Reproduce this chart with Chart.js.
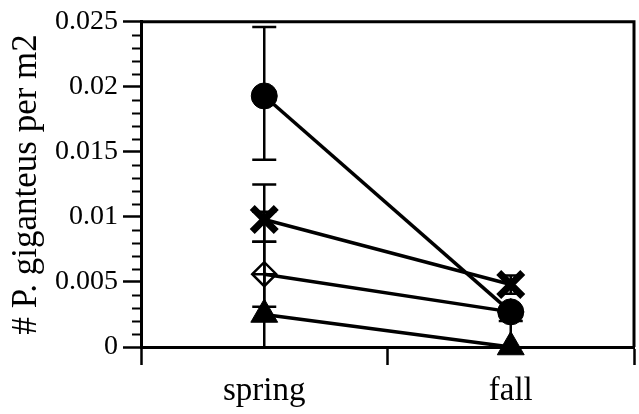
<!DOCTYPE html>
<html>
<head>
  <title>P. giganteus density</title>
  <script src="https://cdn.jsdelivr.net/npm/chart.js"></script>
  <style>
    body { margin: 0; padding: 0; background: #fff; }
    #wrap { width: 639px; height: 414px; }
  </style>
</head>
<body>
  <div id="wrap"><canvas id="chart"></canvas></div>
  <script>
    // Data
    const seasons = ["spring", "fall"];
    const yTicks = [0, 0.005, 0.01, 0.015, 0.02, 0.025];

    const circleVals = [0.0193, 0.0027];
    const crossVals = [0.0098, 0.0048];
    const diamondVals = [0.0056, 0.0027];
    const triangleVals = [0.0025, 0.0];

    // error bar ends (low, high) per season
    const circleLow = [0.0144, 0.0027];
    const circleHigh = [0.0246, 0.0027];
    const crossLow = [0.0081, 0.0041];
    const crossHigh = [0.0125, 0.0055];
    const diamondLow = [0.0031, 0.0027];
    const diamondHigh = [0.0081, 0.0027];
    const triangleLow = [-0.005, -0.002];
    const triangleHigh = [0.0104, 0.002];

    const serif = "'Liberation Serif', 'Times New Roman', serif";

    function series(vals, style, radius, border, fill, showLine) {
      return {
        data: vals,
        showLine: showLine,
        borderColor: "#000",
        backgroundColor: fill,
        borderWidth: 3.5,
        pointStyle: style,
        pointRadius: radius,
        pointBorderWidth: border,
        pointBackgroundColor: fill,
        pointBorderColor: "#000",
        clip: false,
      };
    }

    const errorSets = [
      [circleLow, circleHigh],
      [crossLow, crossHigh],
      [diamondLow, diamondHigh],
      [triangleLow, triangleHigh],
    ];

    // error bars, drawn under the markers
    const errorBars = {
      id: "errorBars",
      beforeDatasetsDraw(chart) {
        const ctx = chart.ctx;
        const xs = chart.scales.x;
        const ys = chart.scales.y;
        ctx.save();
        ctx.strokeStyle = "#000";
        ctx.lineWidth = 2.5;
        errorSets.forEach(([low, high]) => {
          seasons.forEach((s, i) => {
            if (low[i] === high[i]) return;
            const x = xs.getPixelForValue(i);
            const lo = Math.max(low[i], ys.min);
            const yl = ys.getPixelForValue(lo);
            const yh = ys.getPixelForValue(high[i]);
            ctx.beginPath();
            ctx.moveTo(x, yl);
            ctx.lineTo(x, yh);
            ctx.moveTo(x - 12, yh);
            ctx.lineTo(x + 12, yh);
            if (low[i] >= ys.min) {
              ctx.moveTo(x - 12, yl);
              ctx.lineTo(x + 12, yl);
            }
            ctx.stroke();
          });
        });
        ctx.restore();
      },
    };

    // minor ticks on the y axis and the top/right frame
    const frame = {
      id: "frame",
      afterDraw(chart) {
        const ctx = chart.ctx;
        const a = chart.chartArea;
        const ys = chart.scales.y;
        ctx.save();
        ctx.strokeStyle = "#000";
        ctx.lineWidth = 2;
        for (let i = 0; i <= 25; i++) {
          if (i % 5 === 0) continue;
          const y = Math.round(ys.getPixelForValue(i * 0.001)) + 0.5;
          ctx.beginPath();
          ctx.moveTo(a.left - 9, y);
          ctx.lineTo(a.left, y);
          ctx.stroke();
        }
        ctx.lineWidth = 3;
        ctx.beginPath();
        ctx.moveTo(a.left, a.top);
        ctx.lineTo(a.right, a.top);
        ctx.lineTo(a.right, a.bottom);
        ctx.stroke();
        ctx.restore();
      },
    };

    new Chart(document.getElementById("chart"), {
      type: "line",
      data: {
        labels: seasons,
        datasets: [
          series(circleVals, "circle", 13, 1, "#000", true),
          series(crossVals, "crossRot", 17, 7, "#000", true),
          series(diamondVals, "rectRot", 12, 2.5, "rgba(0,0,0,0)", true),
          series(diamondVals, "cross", 12, 2.5, "rgba(0,0,0,0)", false),
          series(triangleVals, "triangle", 15.5, 1, "#000", true),
        ],
      },
      options: {
        responsive: true,
        maintainAspectRatio: false,
        animation: false,
        layout: { autoPadding: false, padding: { top: 19, right: 5, left: 0, bottom: 0 } },
        plugins: {
          legend: { display: false },
          tooltip: { enabled: false },
        },
        elements: { line: { tension: 0 } },
        scales: {
          x: {
            type: "category",
            offset: true,
            grid: {
              offset: true,
              drawOnChartArea: false,
              tickLength: 18,
              tickWidth: 2.5,
              tickColor: "#000",
            },
            border: { width: 3, color: "#000" },
            ticks: {
              color: "#000",
              font: { family: serif, size: 33 },
              padding: 7,
            },
            afterFit(s) { s.height = 67; },
          },
          y: {
            min: 0,
            max: 0.025,
            afterBuildTicks(s) { s.ticks = yTicks.map((v) => ({ value: v })); },
            grid: {
              drawOnChartArea: false,
              tickLength: 18,
              tickWidth: 2.5,
              tickColor: "#000",
            },
            border: { width: 3, color: "#000" },
            ticks: {
              color: "#000",
              font: { family: serif, size: 28 },
              padding: 5,
              callback: (v) => String(Number(v.toFixed(3))),
            },
            title: {
              display: true,
              text: "# P. giganteus per m2",
              color: "#000",
              font: { family: serif, size: 35 },
              padding: { top: 6, bottom: 0 },
            },
            afterFit(s) { s.width = 141; },
          },
        },
      },
      plugins: [errorBars, frame],
    });
  </script>
</body>
</html>
